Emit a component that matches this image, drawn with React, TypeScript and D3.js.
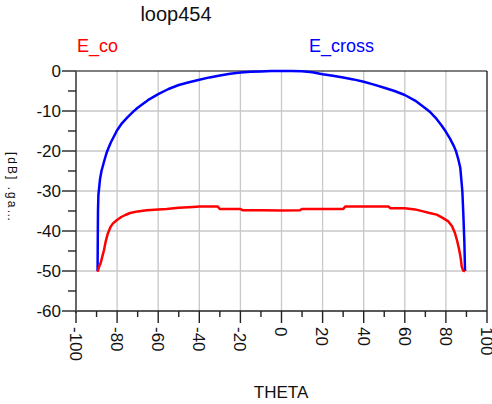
import React from "react";
import * as d3 from "d3";

const title = "loop454";
const xLabel = "THETA";
const yLabel = "[dB] .ga\u2026";
const seriesNames = ["E_co", "E_cross"];
const seriesColors = ["#ff0000", "#0000ff"];

const xTicks = [-100, -80, -60, -40, -20, 0, 20, 40, 60, 80, 100];
const yTicks = [0, -10, -20, -30, -40, -50, -60];

const crossTheta = [-89.5, -89.4, -89.3, -89.1, -88.8, -88.3, -87.6, -86.8, -86, -85, -84, -83, -82, -80, -78, -75, -72, -70, -65, -60, -55, -50, -45, -40, -35, -30, -25, -20, -15, -10, -5, 0, 5, 10, 15, 20, 25, 30, 35, 40, 45, 50, 55, 60, 65, 70, 72, 75, 78, 80, 82, 84, 85, 86, 87, 88, 88.5, 89, 89.3];
const crossDb = [-50, -42, -35, -31, -29.5, -27, -25, -23.5, -22, -20.3, -19, -17.8, -16.8, -14.8, -13.3, -11.6, -10.1, -9.2, -7.3, -5.8, -4.5, -3.5, -2.8, -2.2, -1.6, -1.1, -0.7, -0.4, -0.2, -0.1, 0, 0, 0, -0.05, -0.3, -0.8, -1.2, -1.6, -2.1, -2.7, -3.4, -4.2, -5.0, -6.0, -7.4, -9.3, -10.1, -11.7, -13.7, -15.2, -16.9, -18.9, -20.2, -22.0, -24.2, -30, -36, -43, -50];

const coTheta = [-89.6, -89.2, -88.8, -88, -87.2, -86.4, -85.5, -84.5, -83.1, -82, -80.2, -78, -76, -73.7, -70, -65.6, -60, -55.9, -50, -43, -40, -31, -30, -20, -19, -9.5, 0, 9, 10, 30, 31, 40, 50, 52, 53, 60, 65, 68.9, 72, 75.5, 78, 81.2, 83, 84.4, 85.5, 86.5, 87.2, 87.7, 88.4, 89.3];
const coDb = [-50.2, -49.8, -49, -48, -46.4, -44.8, -42.5, -40.6, -38.9, -38.1, -37.3, -36.5, -36, -35.5, -35.1, -34.8, -34.6, -34.5, -34.2, -34.0, -33.9, -33.9, -34.5, -34.5, -34.8, -34.8, -34.9, -34.8, -34.5, -34.5, -33.9, -33.9, -33.9, -33.9, -34.3, -34.3, -34.6, -35.1, -35.5, -35.9, -36.6, -37.6, -38.8, -40.5, -42.5, -44.8, -46.8, -48.9, -49.9, -50.1];

const W = 492;
const H = 404;
const left = 76;
const right = 487;
const top = 71;
const bottom = 311;
const FONT = "'Liberation Sans', Arial, Helvetica, sans-serif";

export default function App() {
  const x = d3.scaleLinear().domain([-100, 100]).range([left, right]);
  const y = d3.scaleLinear().domain([-60, 0]).range([bottom, top]);
  const line = d3
    .line<[number, number]>()
    .x((d) => x(d[0]))
    .y((d) => y(d[1]));

  const coData: [number, number][] = coTheta.map((t, i) => [t, coDb[i]]);
  const crossData: [number, number][] = crossTheta.map((t, i) => [t, crossDb[i]]);

  const xMinor = d3.range(-90, 100, 20);
  const yMinor = d3.range(-55, 0, 10);
  const xGrid = xTicks.filter((t) => t > -100 && t < 100);
  const yGrid = yTicks.filter((t) => t > -60 && t < 0);

  return (
    <svg
      width={W}
      height={H}
      style={{ position: "absolute", left: 0, top: 0, background: "#fff" }}
      fontFamily={FONT}
    >
      <rect x={0} y={0} width={W} height={H} fill="#fff" />
      {/* grid */}
      {xGrid.map((t) => (
        <line key={"gx" + t} x1={x(t)} x2={x(t)} y1={top} y2={bottom} stroke="#c8c8c8" strokeWidth={1.3} />
      ))}
      {yGrid.map((t) => (
        <line key={"gy" + t} x1={left} x2={right} y1={y(t)} y2={y(t)} stroke="#c8c8c8" strokeWidth={1.3} />
      ))}
      {/* frame */}
      <line x1={left} x2={right} y1={top} y2={top} stroke="#000" strokeWidth={1.2} />
      <line x1={right} x2={right} y1={top} y2={bottom} stroke="#000" strokeWidth={1.2} />
      <line x1={left} x2={right} y1={bottom} y2={bottom} stroke="#222" strokeWidth={1.4} />
      <line x1={left} x2={left} y1={top} y2={bottom + 2} stroke="#666" strokeWidth={2} />
      {/* y ticks */}
      {yTicks.map((t) => (
        <g key={"yt" + t}>
          <line x1={left - 14} x2={left} y1={y(t)} y2={y(t)} stroke="#222" strokeWidth={1.4} />
          <text x={left - 15} y={y(t)} dy="0.36em" textAnchor="end" fontSize={17} fill="#111">
            {t}
          </text>
        </g>
      ))}
      {yMinor.map((t) => (
        <line key={"ym" + t} x1={left - 8} x2={left} y1={y(t)} y2={y(t)} stroke="#222" strokeWidth={1.4} />
      ))}
      {/* x ticks */}
      {xTicks.map((t) => (
        <g key={"xt" + t}>
          <line x1={x(t)} x2={x(t)} y1={bottom} y2={bottom + 12} stroke="#222" strokeWidth={1.4} />
          <text
            transform={`translate(${x(t)},${bottom + 16}) rotate(90)`}
            dy="0.36em"
            textAnchor="start"
            fontSize={17}
            fill="#111"
          >
            {t}
          </text>
        </g>
      ))}
      {xMinor.map((t) => (
        <line key={"xm" + t} x1={x(t)} x2={x(t)} y1={bottom} y2={bottom + 6} stroke="#222" strokeWidth={1.4} />
      ))}
      {/* series */}
      <path d={line(crossData) || ""} fill="none" stroke={seriesColors[1]} strokeWidth={2.5} strokeLinejoin="round" />
      <path d={line(coData) || ""} fill="none" stroke={seriesColors[0]} strokeWidth={2.5} strokeLinejoin="round" />
      {/* texts */}
      <text x={176} y={21} textAnchor="middle" fontSize={20} fill="#111">
        {title}
      </text>
      <text x={77} y={52} fontSize={18} fill={seriesColors[0]}>
        {seriesNames[0]}
      </text>
      <text x={309} y={52} fontSize={18} fill={seriesColors[1]}>
        {seriesNames[1]}
      </text>
      <text x={281} y={398} textAnchor="middle" fontSize={17} fill="#111">
        {xLabel}
      </text>
      <text transform="translate(8,152) rotate(90)" textAnchor="start" fontSize={12} letterSpacing={2} fill="#111">
        {yLabel}
      </text>
    </svg>
  );
}
